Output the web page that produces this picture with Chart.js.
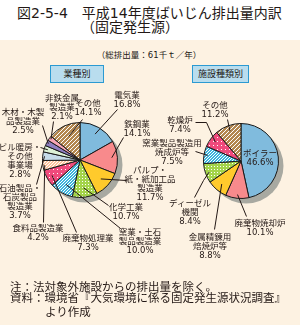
<!DOCTYPE html>
<html>
<head>
<meta charset="utf-8">
<script src="https://cdn.jsdelivr.net/npm/chart.js@4/dist/chart.umd.min.js"></script>
<style>
html,body{margin:0;padding:0;}
body{width:300px;height:325px;position:relative;overflow:hidden;background:#fdf2e2;
  font-family:"DejaVu Sans","Noto Sans CJK JP",sans-serif;color:#231815;}
#head{position:absolute;left:0;top:0;width:300px;height:40px;background:#fff;}
.t{position:absolute;white-space:nowrap;}
canvas{position:absolute;left:0;top:0;}
.box{position:absolute;box-sizing:border-box;height:18px;background:#b9ddee;border:1px solid #2b9ad2;
  font-size:9px;line-height:16px;text-align:center;}
.lab{position:absolute;font-size:8.5px;line-height:9px;text-align:center;white-space:nowrap;transform:translateX(-50%);z-index:2;}
</style>
</head>
<body>
<div id="head"></div>
<div class="t" style="left:17px;top:5px;font-size:14px;line-height:16px;">図2-5-4　平成14年度ばいじん排出量内訳</div>
<div class="t" style="left:130px;top:19px;font-size:14px;line-height:16px;transform:translateX(-50%);">（固定発生源）</div>
<div class="t" style="left:149px;top:50px;font-size:8.5px;line-height:10px;transform:translateX(-50%);">（総排出量：61千ｔ／年）</div>
<div class="box" style="left:50px;top:65px;width:54px;">業種別</div>
<div class="box" style="left:192px;top:65px;width:57px;">施設種類別</div>
<canvas id="left" width="300" height="325"></canvas>
<canvas id="right" width="300" height="325"></canvas>
<div class="t" style="left:10px;top:280px;font-size:11.5px;line-height:14px;">注：法対象外施設からの排出量を除く。</div>
<div class="t" style="left:10px;top:291px;font-size:11.5px;line-height:14px;">資料：環境省『大気環境に係る固定発生源状況調査』</div>
<div class="t" style="left:45px;top:305px;font-size:11.5px;line-height:14px;">より作成</div>
<script>
// 業種別 (by industry), % of 61 thousand t
const industryNames = ['電気業', '鉄鋼業', 'パルプ・\n紙・紙加工品\n製造業', '化学工業', '窯業・土石\n製品製造業',
  '廃棄物処理業', '食料品製造業', '石油製品・\n石炭製品\n製造業', 'ビル暖房・\nその他\n事業場',
  '木材・木製\n品製造業', '非鉄金属\n製造業', 'その他'];
const industryShares = [16.8, 14.1, 11.7, 10.7, 10.0, 7.3, 4.2, 3.7, 2.8, 2.5, 2.1, 14.1];

// 施設種類別 (by facility type)
const facilityNames = ['ボイラー', '廃棄物焼却炉', '金属精錬用\n焙焼炉等', 'ディーゼル\n機関',
  '窯業製品製造用\n焼成炉等', '乾燥炉', 'その他'];
const facilityShares = [46.6, 10.1, 8.8, 8.4, 7.5, 7.4, 11.2];

// fill patterns
function patt(base, kind, size){
  const c = document.createElement('canvas');
  c.width = c.height = size;
  const g = c.getContext('2d');
  g.fillStyle = base; g.fillRect(0, 0, size, size);
  g.fillStyle = '#ffffff';
  if(kind === 'hatch'){
    for(let i = 0; i < size; i++) g.fillRect(i, size - 1 - i, 1, 1);
  } else if(kind === 'dots'){
    g.fillRect(1, 1, 1, 1);
  }
  return g.createPattern(c, 'repeat');
}

const BLUE = '#80bbdd', SALMON = '#f88a8c', YELLOW = '#ffca2c', GREEN = patt('#a4d44a', 'dots', 3),
  CYAN = patt('#3db4dc', 'hatch', 3), MAGENTA = patt('#f04a7c', 'dots', 4), BROWN = patt('#b3874f', 'hatch', 4);

const industryColors = [BLUE, SALMON, YELLOW, GREEN, CYAN, MAGENTA, patt('#ffc49c', 'hatch', 3),
  '#c6dbe9', '#ddf1d6', '#8f7ec0', '#f8a6b6', BROWN];
const facilityColors = [BLUE, SALMON, YELLOW, GREEN, CYAN, MAGENTA, BROWN];

// label layout: [centre x, first line centre y], leader start, optional elbow, end radius fraction
const industryLabelPos = [[127,95],[137,124],[150,170],[126,207],[140,232],[88,238],[38,228],[20,188],[20,147],[23,112],[62,98],[88,103]];
const industryLeadFrom = [[117,109],[123,137],[126,180],[108,205],[120,228],[76,232],[43,222],[36,184],[40,147],[42,125],[53,121],[82,119]];
const industryLeadVia = [null,null,null,null,null,null,null,null,null,null,null,null];
const industryLeadFrac = [0.8,0.85,0.75,0.75,0.75,0.85,0.95,0.95,0.9,0.95,0.95,0.7];

const facilityLabelPos = [[260,153],[260,223],[210,237],[190,203],[172,143],[180,120],[215,105]];
const facilityLeadFrom = [null,[246,216],[214,229],[194,197],[195,151],[195,122],[227,119]];
const facilityLeadVia = [null,null,null,[203,180],null,[206,122],null];
const facilityLeadFrac = [0,0.9,0.8,0.9,0.9,0.85,0.85];

const shadowPlugin = {
  id: 'shadow',
  beforeDatasetsDraw(chart){
    const a = chart.getDatasetMeta(0).data[0];
    const ctx = chart.ctx;
    ctx.save();
    ctx.fillStyle = '#a8a9a1';
    ctx.beginPath();
    ctx.arc(a.x + 5, a.y + 5, a.outerRadius, 0, Math.PI * 2);
    ctx.fill();
    ctx.restore();
  }
};

const leaderPlugin = {
  id: 'leaders',
  afterDatasetsDraw(chart, args, opts){
    const ctx = chart.ctx;
    ctx.save();
    ctx.strokeStyle = '#231815';
    ctx.lineWidth = 1;
    chart.getDatasetMeta(0).data.forEach((a, i) => {
      const from = opts.from[i];
      if(!from) return;
      const mid = (a.startAngle + a.endAngle) / 2;
      const r = a.outerRadius * opts.frac[i];
      ctx.beginPath();
      ctx.moveTo(from[0] + 0.5, from[1] + 0.5);
      if(opts.via[i]) ctx.lineTo(opts.via[i][0] + 0.5, opts.via[i][1] + 0.5);
      ctx.lineTo(a.x + Math.cos(mid) * r, a.y + Math.sin(mid) * r);
      ctx.stroke();
    });
    ctx.restore();
  }
};

function makePie(id, names, values, colors, pad, from, via, frac){
  return new Chart(document.getElementById(id), {
    type: 'pie',
    data: {
      labels: names.map(n => n.replace(/\n/g, '')),
      datasets: [{ data: values, backgroundColor: colors, borderColor: '#1a1a1a', borderWidth: 1 }]
    },
    options: {
      responsive: false,
      animation: false,
      layout: { padding: pad },
      plugins: {
        legend: { display: false },
        tooltip: { enabled: false },
        leaders: { from, via, frac }
      }
    },
    plugins: [shadowPlugin, leaderPlugin]
  });
}

function addLabels(names, values, pos){
  names.forEach((n, i) => {
    const d = document.createElement('div');
    d.className = 'lab';
    d.style.left = pos[i][0] + 'px';
    d.style.top = (pos[i][1] - 4.5) + 'px';
    n.split('\n').concat(values[i].toFixed(1) + '%').forEach((line, k) => {
      if(k) d.appendChild(document.createElement('br'));
      d.appendChild(document.createTextNode(line));
    });
    document.body.appendChild(d);
  });
}

makePie('left', industryNames, industryShares, industryColors,
  { left: 42, top: 122, right: 182, bottom: 127 }, industryLeadFrom, industryLeadVia, industryLeadFrac);
makePie('right', facilityNames, facilityShares, facilityColors,
  { left: 203, top: 123, right: 21, bottom: 126 }, facilityLeadFrom, facilityLeadVia, facilityLeadFrac);
addLabels(industryNames, industryShares, industryLabelPos);
addLabels(facilityNames, facilityShares, facilityLabelPos);
</script>
</body>
</html>
